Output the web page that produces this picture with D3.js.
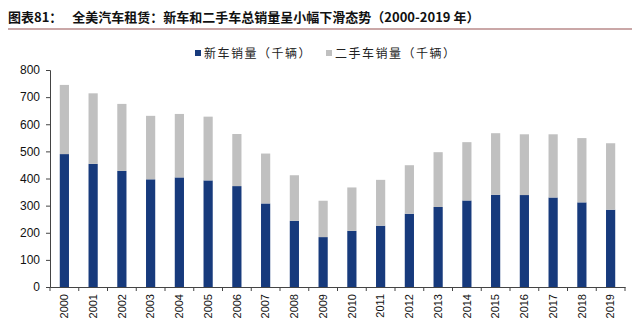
<!DOCTYPE html>
<html><head><meta charset="utf-8">
<script src="https://cdn.jsdelivr.net/npm/d3@7"></script>
<style>body{margin:0;background:#fff}svg{display:block}</style>
</head><body>
<svg id="c" width="640" height="328"></svg>
<script>
const years = ["2000","2001","2002","2003","2004","2005","2006","2007","2008","2009","2010","2011","2012","2013","2014","2015","2016","2017","2018","2019"];
const newCars = [490,454,428,397,404,393,372,308,244,184,207,226,270,295,319,340,339,330,312,285];
const usedCars = [255,260,247,234,234,235,192,184,168,134,160,169,179,202,215,227,224,233,237,245];
const yTicks = [0,100,200,300,400,500,600,700,800];
const seriesNames = ["新车销量（千辆）","二手车销量（千辆）"];
const colors = ["#173a7c","#c0c0c0"];

const svg = d3.select("#c");
const m = {l:50, r:625, t:70, b:287};
const x = d3.scaleBand().domain(years).range([m.l, m.r]).paddingInner(0.68).paddingOuter(0.34);
const y = d3.scaleLinear().domain([0,800]).range([m.b, m.t]);

// title
const title = svg.append("text").attr("x",8).attr("y",22)
  .attr("font-family","'Noto Sans CJK SC'").attr("font-size",13).attr("font-weight","bold").attr("fill","#111");
title.append("tspan").text("图表81：");
title.append("tspan").attr("dx",10).text("全美汽车租赁：新车和二手车总销量呈小幅下滑态势（2000-2019 年）");
svg.append("line").attr("x1",8).attr("x2",632).attr("y1",29).attr("y2",29)
  .attr("stroke","#b88a8a").attr("stroke-width",1.5);

// bars
const data = years.map((yr,i)=>({yr, n:newCars[i], u:usedCars[i]}));
const g = svg.append("g");
g.selectAll("rect.n").data(data).join("rect").attr("class","n")
  .attr("x",d=>x(d.yr)).attr("width",x.bandwidth())
  .attr("y",d=>y(d.n)).attr("height",d=>y(0)-y(d.n)).attr("fill",colors[0]);
g.selectAll("rect.u").data(data).join("rect").attr("class","u")
  .attr("x",d=>x(d.yr)).attr("width",x.bandwidth())
  .attr("y",d=>y(d.n+d.u)).attr("height",d=>y(d.n)-y(d.n+d.u)).attr("fill",colors[1]);

// y axis
const ya = svg.append("g").attr("transform",`translate(${m.l},0)`)
  .call(d3.axisLeft(y).tickValues(yTicks).tickSize(4).tickPadding(6));
ya.select(".domain").attr("stroke","#444");
ya.selectAll(".tick line").attr("stroke","#444");
ya.selectAll("text").attr("font-family","'Liberation Sans',Arial").attr("font-size",12).attr("fill","#111");

// x axis
const xa = svg.append("g").attr("transform",`translate(0,${m.b})`)
  .call(d3.axisBottom(x).tickSize(0).tickPadding(0));
xa.select(".domain").attr("stroke","#444");
xa.selectAll(".tick text")
  .attr("font-family","'Liberation Sans',Arial").attr("font-size",11).attr("fill","#111")
  .attr("transform","rotate(-90)").attr("text-anchor","end").attr("dy","0.35em").attr("x",-7).attr("y",0);
// category separators
const step = x.step();
xa.selectAll("line.sep").data(d3.range(years.length+1)).join("line").attr("class","sep")
  .attr("x1",i=>m.l+i*step).attr("x2",i=>m.l+i*step).attr("y1",0).attr("y2",4).attr("stroke","#444");

// legend
const leg = [{x:195,t:seriesNames[0],c:colors[0]},{x:326,t:seriesNames[1],c:colors[1]}];
leg.forEach(l=>{
  svg.append("rect").attr("x",l.x).attr("y",50).attr("width",6).attr("height",6).attr("fill",l.c);
  svg.append("text").attr("x",l.x+9).attr("y",58).attr("font-family","'Noto Sans CJK SC'")
    .attr("font-size",12).attr("letter-spacing",1.5).attr("fill","#222").text(l.t);
});
</script>
</body></html>
